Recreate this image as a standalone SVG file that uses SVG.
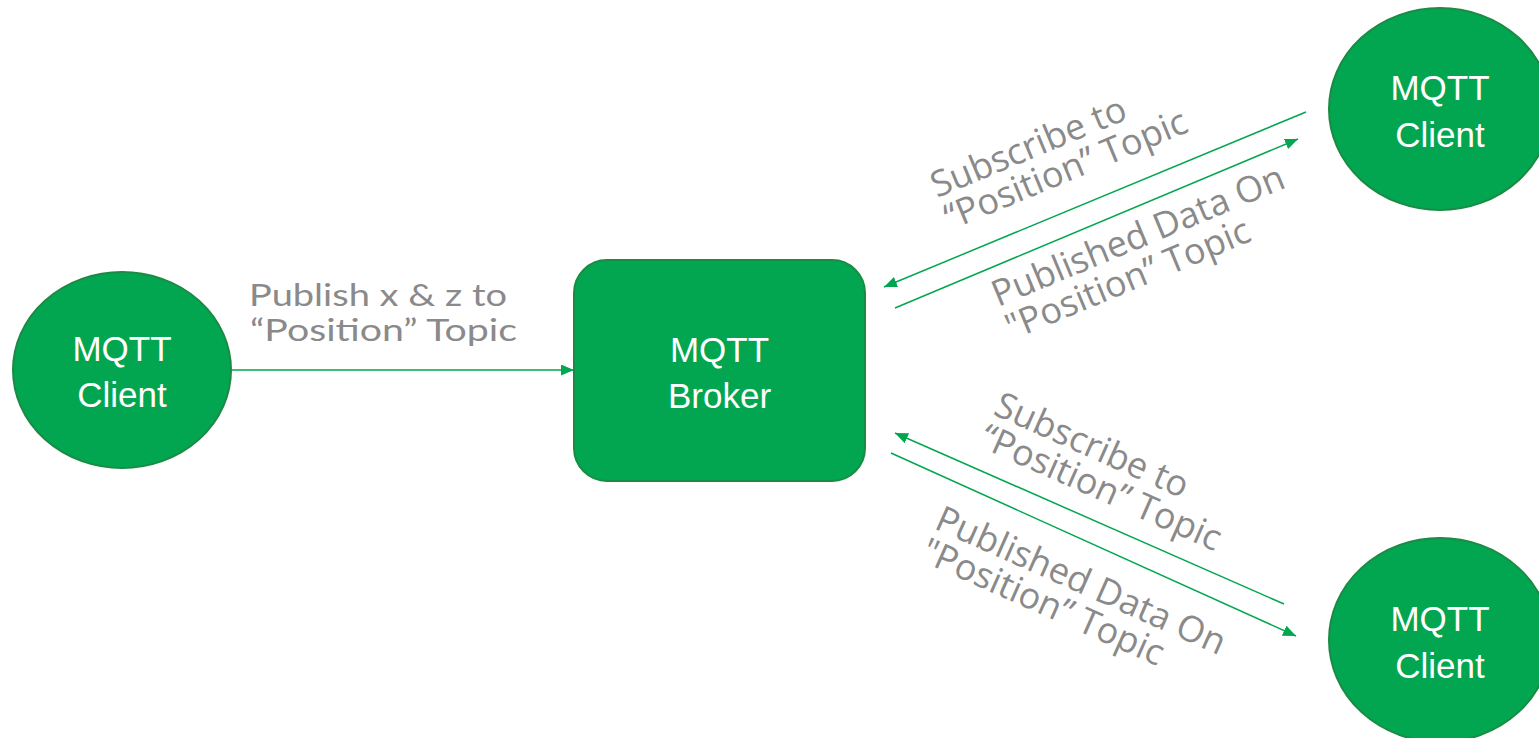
<svg xmlns="http://www.w3.org/2000/svg" width="1539" height="738" viewBox="0 0 1539 738">
<style>
.node{fill:#03a650;stroke:#1b8a44;stroke-width:2}
.ntext{font-family:"Liberation Sans",Arial,sans-serif;font-size:35px;fill:#ffffff;text-anchor:middle}
.lbl{font-family:"Open Sans","DejaVu Sans",sans-serif;font-size:36px;fill:#8a8a8a}
.hlbl{font-family:Lato,"Liberation Sans",sans-serif;font-size:30px;fill:#8a8a8a}
.conn{stroke:#03a650;stroke-width:1.5;fill:none;marker-end:url(#arr)}
</style>
<defs>
<marker id="arr" markerUnits="userSpaceOnUse" markerWidth="14" markerHeight="12" refX="13" refY="5.5" orient="auto">
<path d="M0,0 L13,5.5 L0,11 z" fill="#03a650"/>
</marker>
</defs>
<rect width="1539" height="738" fill="#ffffff"/>
<g id="connectors">
<line class="conn" x1="231" y1="370" x2="574" y2="370"/>
<line class="conn" x1="1306" y1="112" x2="884" y2="287"/>
<line class="conn" x1="895" y1="308" x2="1298" y2="139"/>
<line class="conn" x1="1284" y1="604" x2="895" y2="433"/>
<line class="conn" x1="891" y1="453" x2="1296" y2="636"/>
</g>
<g id="labels">
<text class="hlbl"><tspan x="249" y="306" textLength="258" lengthAdjust="spacingAndGlyphs">Publish x &amp; z to</tspan><tspan x="250" y="341" textLength="267" lengthAdjust="spacingAndGlyphs">“Position” Topic</tspan></text>
<text class="lbl" transform="translate(937,198) rotate(-22.5)"><tspan x="0" y="0">Subscribe to</tspan><tspan x="0" y="35">“Position” Topic</tspan></text>
<text class="lbl" transform="translate(998,307) rotate(-22.5)"><tspan x="0" y="0">Published Data On</tspan><tspan x="0" y="36">"Position” Topic</tspan></text>
<text class="lbl" transform="translate(992,414) rotate(24)"><tspan x="0" y="0">Subscribe to</tspan><tspan x="0" y="35">“Position” Topic</tspan></text>
<text class="lbl" transform="translate(933,528) rotate(24)"><tspan x="0" y="0">Published Data On</tspan><tspan x="0" y="35">"Position” Topic</tspan></text>
</g>
<g id="client-left">
<ellipse class="node" cx="122" cy="370" rx="109" ry="98"/>
<text class="ntext" x="122" y="361">MQTT</text>
<text class="ntext" x="122" y="407">Client</text>
</g>
<g id="broker">
<rect class="node" x="574" y="260" width="291" height="221" rx="33" ry="33"/>
<text class="ntext" x="719.5" y="362">MQTT</text>
<text class="ntext" x="719.5" y="408">Broker</text>
</g>
<g id="client-top-right">
<ellipse class="node" cx="1440" cy="109" rx="111" ry="101"/>
<text class="ntext" x="1440" y="100">MQTT</text>
<text class="ntext" x="1440" y="147">Client</text>
</g>
<g id="client-bottom-right">
<ellipse class="node" cx="1440" cy="640" rx="111" ry="102"/>
<text class="ntext" x="1440" y="631">MQTT</text>
<text class="ntext" x="1440" y="678">Client</text>
</g>
</svg>
